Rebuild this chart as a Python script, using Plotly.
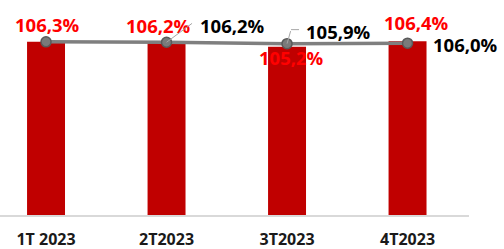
import plotly.graph_objects as go

categories = ["1T 2023", "2T2023", "3T2023", "4T2023"]
bar_values = [106.3, 106.2, 105.2, 106.4]
line_values = [106.3, 106.2, 105.9, 106.0]
bar_labels = ["106,3%", "106,2%", "105,2%", "106,4%"]
line_labels = [None, "106,2%", "105,9%", "106,0%"]

RED = "#c00000"
LBL_RED = "#ff0000"
FONT = "Open Sans"

fig = go.Figure()
fig.add_trace(go.Bar(
    x=categories, y=bar_values, marker=dict(color=RED, line=dict(width=0)),
    width=0.315, hoverinfo="skip", showlegend=False,
))
fig.add_trace(go.Scatter(
    x=categories, y=line_values, mode="lines+markers",
    line=dict(color="#7f7f7f", width=3.5),
    marker=dict(size=10, color="#7a7a7a", line=dict(color="#5a5a5a", width=1.5)),
    hoverinfo="skip", showlegend=False,
))

bar_offsets = [(1, 17), (-8, 17), (4, -11), (9, 19)]
for c, v, t, (dx, dy) in zip(categories, bar_values, bar_labels, bar_offsets):
    fig.add_annotation(x=c, y=v, text="<b>" + t + "</b>", showarrow=False, xshift=dx, yshift=dy,
                       font=dict(family=FONT, size=18.5, color=LBL_RED))

line_offsets = [None, (66, 17), (51, 12), (58, -1)]
for c, v, t, off in zip(categories, line_values, line_labels, line_offsets):
    if t is None:
        continue
    dx, dy = off
    fig.add_annotation(x=c, y=v, text="<b>" + t + "</b>", showarrow=False, xshift=dx, yshift=dy,
                       font=dict(family=FONT, size=18.5, color="#000000"))

# leader lines
fig.add_annotation(x=categories[1], y=line_values[1], ax=27, ay=-20, axref="pixel", ayref="pixel",
                   showarrow=True, arrowhead=0, arrowwidth=1, arrowcolor="#a6a6a6", text="")
fig.add_annotation(x=categories[2], y=line_values[2], ax=4, ay=-14, axref="pixel", ayref="pixel",
                   showarrow=True, arrowhead=0, arrowwidth=1, arrowcolor="#a6a6a6", text="")
fig.add_shape(type="line", xref="x", yref="y", xsizemode="pixel", ysizemode="pixel",
              xanchor=2, yanchor=line_values[2], x0=4, x1=12, y0=14, y1=14,
              line=dict(color="#a6a6a6", width=1))

fig.update_layout(
    width=504, height=249,
    margin=dict(l=0, r=35, t=0, b=34, autoexpand=False),
    plot_bgcolor="white", paper_bgcolor="white",
    bargap=0.5,
    xaxis=dict(type="category", range=[-0.382, 3.51], showgrid=False, showline=True,
               linecolor="#d9d9d9", linewidth=1.5, ticks="", zeroline=False,
               tickfont=dict(family=FONT, size=16, color="#1a1a1a", weight="bold"),
               ticklabelstandoff=9, automargin=False),
    yaxis=dict(range=[68.2, 115.5], visible=False, showgrid=False, zeroline=False,
               automargin=False),
)

fig.write_html("out.html", config={"displayModeBar": False},
               post_script="document.body.style.margin='0';document.body.style.overflow='hidden';")
